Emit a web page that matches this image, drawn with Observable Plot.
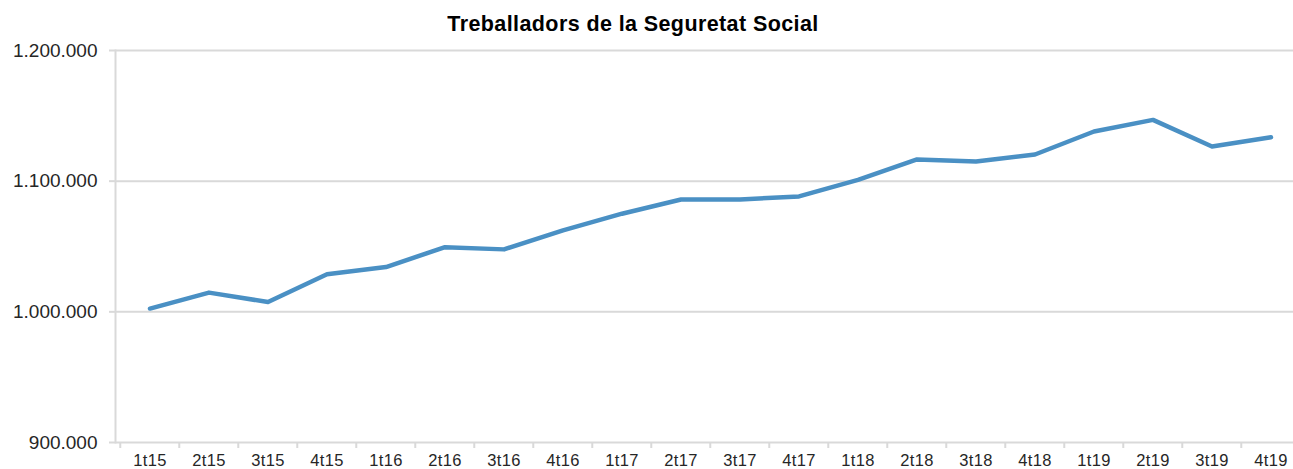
<!DOCTYPE html>
<html><head><meta charset="utf-8">
<script src="https://cdn.jsdelivr.net/npm/d3@7"></script>
<script src="https://cdn.jsdelivr.net/npm/@observablehq/plot@0.6"></script>
<style>
body{margin:0;background:#fff;overflow:hidden;font-family:Arial,"Liberation Sans",sans-serif;}
#title{position:relative;height:40px;}
#title span{position:absolute;left:633px;top:14px;transform:translateX(-50%);font-weight:bold;font-size:21.5px;letter-spacing:0.4px;color:#000;white-space:nowrap;line-height:1}
.xl text{letter-spacing:0.4px}
</style></head><body>
<div id="title"><span>Treballadors de la Seguretat Social</span></div>
<div id="chart"></div>
<script>
const quarters = ["1t15","2t15","3t15","4t15","1t16","2t16","3t16","4t16","1t17","2t17","3t17","4t17","1t18","2t18","3t18","4t18","1t19","2t19","3t19","4t19"];
const workers = [1002500,1014700,1007500,1028700,1034300,1049500,1047800,1062400,1075100,1086000,1086000,1088300,1101000,1116600,1115000,1120400,1138000,1146900,1126500,1133600];
const yTicks = [900000, 1000000, 1100000, 1200000];

const data = quarters.map((q, i) => ({q, v: workers[i]}));
const loc = d3.formatLocale({decimal: ",", thousands: ".", grouping: [3], currency: ["", "€"]});
const fmt = loc.format(",d");
const W = 1293, H = 429;
const xRange = [115, 1304.5];
const bw = (xRange[1] - xRange[0]) / quarters.length;

const chart = Plot.plot({
  width: W, height: H, marginTop: 10, marginBottom: 27, marginLeft: 115, marginRight: 0,
  style: {fontFamily: "Arial, 'Liberation Sans', sans-serif", background: "#fff", color: "#262626", overflow: "visible"},
  x: {type: "band", domain: quarters, range: xRange, padding: 0, label: null},
  y: {domain: [900000, 1200000], label: null},
  marks: [
    Plot.gridY(yTicks, {stroke: "#d9d9d9", strokeOpacity: 1, strokeWidth: 2}),
    Plot.axisY(yTicks, {tickFormat: fmt, tickSize: 6, tickPadding: 12, stroke: "#d9d9d9", strokeWidth: 2, fontSize: 19, fill: "#262626", label: null}),
    Plot.axisX(quarters, {tickFormat: () => "", tickSize: 6, dx: -bw / 2, stroke: "#d9d9d9", strokeWidth: 2, label: null}),
    Plot.axisX({tickSize: 0, tickPadding: 12, fontSize: 16.5, fill: "#262626", label: null, className: "xl"}),
    Plot.frame({anchor: "left", stroke: "#d9d9d9", strokeWidth: 2}),
    Plot.lineY(data, {x: "q", y: "v", stroke: "#4a90c4", strokeWidth: 4.5})
  ]
});
document.getElementById("chart").appendChild(chart);
</script>
</body></html>
